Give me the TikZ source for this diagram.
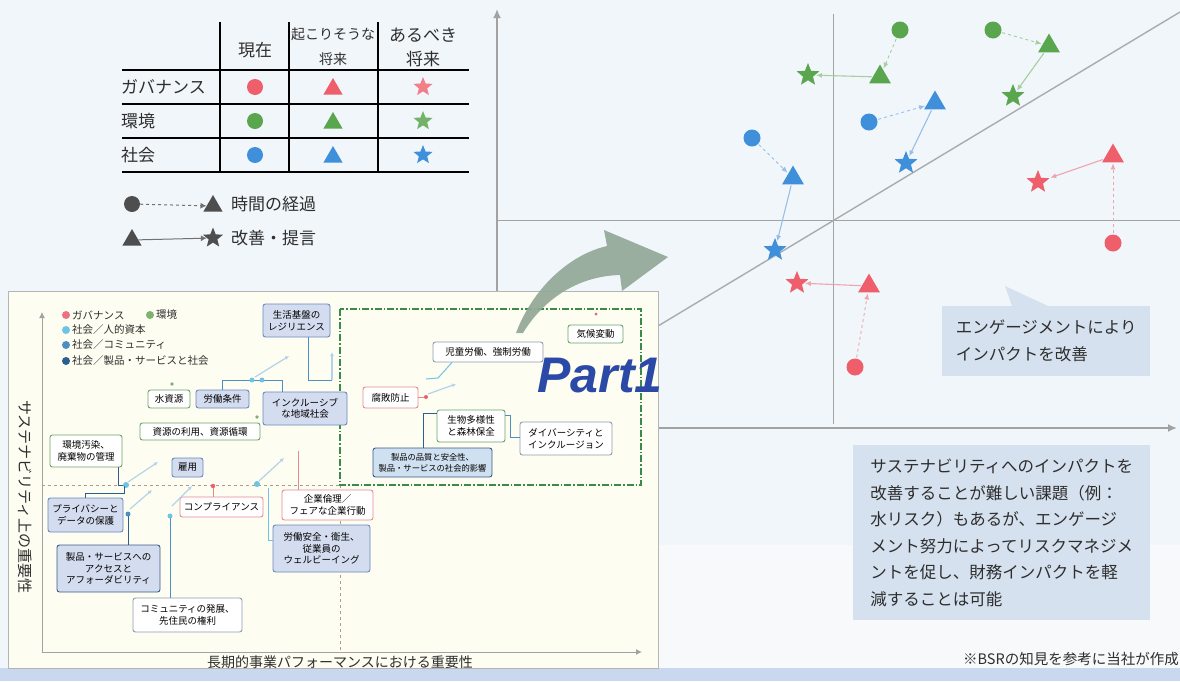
\documentclass[tikz,border=0pt]{standalone}
\usepackage{fontspec}
\setmainfont{Noto Sans CJK JP}
\newfontfamily\partfont{Liberation Sans}
\usetikzlibrary{shapes.geometric,arrows.meta}
\definecolor{bg}{HTML}{F1F6FB}
\definecolor{bglow}{HTML}{F8F9FA}
\definecolor{strip}{HTML}{C9D7EF}
\definecolor{gred}{HTML}{EE5E6B}
\definecolor{ggreen}{HTML}{5AA64E}
\definecolor{gblue}{HTML}{3F8FDA}
\definecolor{lred}{HTML}{F0A4AB}
\definecolor{lgreen}{HTML}{A6CE9E}
\definecolor{lblue}{HTML}{98BEE6}
\definecolor{axisc}{HTML}{A2A2A2}
\definecolor{callout}{HTML}{D6E1EF}
\definecolor{panel}{HTML}{FEFDF1}
\definecolor{txt}{HTML}{2E2E2E}
\definecolor{partblue}{HTML}{2B49A6}
\definecolor{arrowg}{HTML}{93A898}
\definecolor{legdark}{HTML}{4E4E4E}
\definecolor{cgov}{HTML}{EE7080}
\definecolor{cenv}{HTML}{7DB36F}
\definecolor{chum}{HTML}{6EC3E6}
\definecolor{ccom}{HTML}{4D8FC4}
\definecolor{cprod}{HTML}{2A5F8F}
\definecolor{bgreen}{HTML}{6BA46B}
\definecolor{bpink}{HTML}{E38A8F}
\definecolor{bblue}{HTML}{6A88BE}
\definecolor{bgray}{HTML}{8E9AAE}
\definecolor{bdark}{HTML}{3A5A8A}
\definecolor{bfill}{HTML}{D4DCEF}
\definecolor{qfill}{HTML}{CFE0F0}
\definecolor{faint}{HTML}{B4D3EA}
\definecolor{dgreen}{HTML}{3A8A4A}
\definecolor{dashc}{HTML}{B09A88}
\begin{document}
\begin{tikzpicture}[x=1pt,y=-1pt,
  circ/.style={circle,fill=#1,minimum size=17pt,inner sep=0pt},
  tri/.style={regular polygon,regular polygon sides=3,fill=#1,minimum size=25pt,inner sep=0pt},
  strs/.style={star,star points=5,star point ratio=2.3,fill=#1,minimum size=24pt,inner sep=0pt},
  tdash/.style={draw=#1,dashed,line width=0.9pt,-{Latex[length=6pt,width=5pt]},shorten >=1pt,shorten <=1pt},
  tsolid/.style={draw=#1,line width=1.1pt,-{Latex[length=6pt,width=5pt]},shorten >=1pt,shorten <=1pt},
  tbl/.style={text=txt,font=\fontsize{17}{24}\selectfont,align=center,inner sep=0pt},
  ibox/.style={draw=#1,rounded corners=2.5pt,line width=0.9pt,fill=white,align=center,inner sep=1pt,font=\fontsize{9.5}{11.5}\selectfont,text=black},
  ifill/.style={fill=bfill},
  conn/.style={draw=#1,line width=1pt},
  fa/.style={draw=faint,line width=1.2pt,-{Latex[length=4pt,width=4pt]}},
  axarrow/.style={draw=axisc,line width=2pt,-{Latex[length=9pt,width=8pt]}},
  quad/.style={draw=axisc,line width=0.8pt},
  cbox/.style={fill=callout,text=txt,align=left,anchor=north west,inner sep=0pt,font=\fontsize{16.5}{26.5}\selectfont}
]
\useasboundingbox (0,0) rectangle (1180,681);
% background
\fill[bg] (0,0) rectangle (1180,681);
\fill[bglow] (658,545) rectangle (1180,668);
\fill[strip] (0,668) rectangle (1180,681);

% ---------- legend table ----------
\foreach \x in {220,289,378} \draw[line width=1.3pt] (\x,22) -- (\x,172);
\foreach \y in {70,104,138,172} \draw[line width=1.3pt] (122,\y) -- (469,\y);
\node[tbl] (hNow) at (255,50) {現在};
\node[tbl,font=\fontsize{14}{25}\selectfont] (hLikely) at (333,47) {起こりそうな\\将来};
\node[tbl] (hIdeal) at (423,47) {あるべき\\将来};
\node[tbl,anchor=west] (rGov) at (121,87) {ガバナンス};
\node[tbl,anchor=west] (rEnv) at (121,121) {環境};
\node[tbl,anchor=west] (rSoc) at (121,155) {社会};
\node[circ=gred,minimum size=16pt] (tGc) at (255,87) {};
\node[tri=gred,minimum size=22pt] (tGt) at (333,89) {};
\node[strs=gred!80,minimum size=20pt] (tGs) at (423,87) {};
\node[circ=ggreen,minimum size=16pt] (tEc) at (255,121) {};
\node[tri=ggreen,minimum size=22pt] (tEt) at (333,123) {};
\node[strs=ggreen!85,minimum size=20pt] (tEs) at (423,121) {};
\node[circ=gblue,minimum size=16pt] (tSc) at (255,155) {};
\node[tri=gblue,minimum size=22pt] (tSt) at (333,157) {};
\node[strs=gblue,minimum size=20pt] (tSs) at (423,155) {};
% time / improvement legend
\node[circ=legdark,minimum size=16pt] (lc) at (132,204) {};
\node[tri=legdark,minimum size=22pt] (lt) at (213,206) {};
\draw[draw=legdark!80,dashed,line width=1pt,-{Latex[length=6pt,width=6pt]}] (lc) -- (lt);
\node[tbl,anchor=west] (ltxt) at (231,204) {時間の経過};
\node[tri=legdark,minimum size=22pt] (lt2) at (132,240) {};
\node[strs=legdark,minimum size=21pt] (ls2) at (213,238) {};
\draw[draw=legdark!80,line width=1pt,-{Latex[length=6pt,width=6pt]}] (lt2) -- (ls2);
\node[tbl,anchor=west] (ltxt2) at (231,238) {改善・提言};

% ---------- scatter axes ----------
\coordinate (yb) at (497,291);
\coordinate (yt) at (497,9);
\draw[axarrow] (yb) -- (yt);
\coordinate (xl) at (658,428);
\coordinate (xr) at (1177,428);
\draw[axarrow] (xl) -- (xr);
\coordinate (qv1) at (833,14);
\coordinate (qv2) at (833,424);
\draw[quad] (qv1) -- (qv2);
\coordinate (qh1) at (497,220);
\coordinate (qh2) at (1180,220);
\draw[quad] (qh1) -- (qh2);
\coordinate (d1) at (658,326);
\coordinate (d2) at (1180,12);
\draw[draw=axisc!90,line width=1.4pt] (d1) -- (d2);

% ---------- scatter points ----------
\node[circ=ggreen] (g1c) at (900,30) {};
\node[tri=ggreen] (g1t) at (880,77) {};
\node[strs=ggreen] (g1s) at (808,75) {};
\node[circ=ggreen] (g2c) at (993,30) {};
\node[tri=ggreen] (g2t) at (1049,46) {};
\node[strs=ggreen] (g2s) at (1013,96) {};
\node[circ=gblue] (b1c) at (869,122) {};
\node[tri=gblue] (b1t) at (935,103) {};
\node[strs=gblue] (b1s) at (906,163) {};
\node[circ=gblue] (b2c) at (752,138) {};
\node[tri=gblue] (b2t) at (793,178) {};
\node[strs=gblue] (b2s) at (775,250) {};
\node[tri=gred] (r1t) at (1113,156) {};
\node[strs=gred] (r1s) at (1038,182) {};
\node[circ=gred] (r1c) at (1113,243) {};
\node[tri=gred] (r2t) at (869,286) {};
\node[strs=gred] (r2s) at (797,283) {};
\node[circ=gred] (r2c) at (855,367) {};
\draw[tdash=lgreen] (g1c) -- (g1t);
\draw[tsolid=lgreen] (g1t) -- (g1s);
\draw[tdash=lgreen] (g2c) -- (g2t);
\draw[tsolid=lgreen] (g2t) -- (g2s);
\draw[tdash=lblue] (b1c) -- (b1t);
\draw[tsolid=lblue] (b1t) -- (b1s);
\draw[tdash=lblue] (b2c) -- (b2t);
\draw[tsolid=lblue] (b2t) -- (b2s);
\draw[tdash=lred] (r1c) -- (r1t);
\draw[tsolid=lred] (r1t) -- (r1s);
\draw[tdash=lred] (r2c) -- (r2t);
\draw[tsolid=lred] (r2t) -- (r2s);

% ---------- callouts ----------
\fill[callout] (1005,286) -- (1048,306) -- (1012,306) -- cycle;
\node[cbox,minimum width=208pt,minimum height=70pt,inner xsep=11pt,inner ysep=9pt,font=\fontsize{16.5}{27}\selectfont] (c1) at (942,306) {エンゲージメントにより\\インパクトを改善};
\node[cbox,minimum width=297pt,minimum height=175pt,inner xsep=11pt,inner ysep=9pt] (c2) at (853,445) {サステナビリティへのインパクトを\\改善することが難しい課題（例：\\水リスク）もあるが、エンゲージ\\メント努力によってリスクマネジメ\\ントを促し、財務インパクトを軽\\減することは可能};
\node[text=txt,anchor=east,inner sep=0pt,font=\fontsize{14.5}{16}\selectfont] (foot) at (1179,659) {※BSRの知見を参考に当社が作成};

% ---------- inset panel ----------
\draw[draw=axisc!80,fill=panel,line width=1pt] (8,291) rectangle (658,668);
\coordinate (iy0) at (42,652);
\coordinate (iyt) at (42,312);
\coordinate (ixr) at (642,652);
\draw[draw=axisc,line width=1pt,-{Latex[length=6pt,width=6pt]}] (iy0) -- (iyt);
\draw[draw=axisc,line width=1pt,-{Latex[length=6pt,width=6pt]}] (iy0) -- (ixr);
\node[rotate=-90,text=txt,font=\fontsize{15}{15}\selectfont,inner sep=0pt] (ylab) at (25,497) {サステナビリティ上の重要性};
\node[text=txt,font=\fontsize{14}{14}\selectfont,inner sep=0pt] (xlab) at (340,662) {長期的事業パフォーマンスにおける重要性};
\coordinate (mh1) at (42,485);
\coordinate (mh2) at (340,485);
\coordinate (mv2) at (340,652);
\draw[draw=dashc,dashed,line width=0.8pt] (mh1) -- (mh2);
\draw[draw=dashc,dashed,line width=0.8pt] (mh2) -- (mv2);
\draw[draw=dgreen,line width=1.1pt,dash pattern=on 7pt off 2pt on 1.5pt off 2pt] (340,309) rectangle (641,485);

% inset legend
\begin{scope}[font=\fontsize{10.5}{12}\selectfont,text=txt]
\fill[cgov] (66,315) circle (4);
\node[anchor=west,inner sep=0pt] (lg1) at (72,315) {ガバナンス};
\fill[cenv] (150,315) circle (4);
\node[anchor=west,inner sep=0pt] (lg2) at (156,315) {環境};
\fill[chum] (66,330) circle (4);
\node[anchor=west,inner sep=0pt] (lg3) at (72,330) {社会／人的資本};
\fill[ccom] (66,345) circle (4);
\node[anchor=west,inner sep=0pt] (lg4) at (72,345) {社会／コミュニティ};
\fill[cprod] (66,361) circle (4);
\node[anchor=west,inner sep=0pt] (lg5) at (72,361) {社会／製品・サービスと社会};
\end{scope}

% inset boxes
\node[ibox=bblue,ifill,minimum width=67pt,minimum height=33pt] (lifeR) at (296.5,320.5) {生活基盤の\\レジリエンス};
\node[ibox=bgreen,minimum width=42pt,minimum height=18pt] (water) at (169,399) {水資源};
\node[ibox=bblue,ifill,minimum width=53pt,minimum height=18pt] (labor) at (222.5,399) {労働条件};
\node[ibox=bblue,ifill,minimum width=84pt,minimum height=33pt] (incl) at (305,408.5) {インクルーシブ\\な地域社会};
\node[ibox=bgreen,minimum width=120pt,minimum height=17pt] (resource) at (200,431.5) {資源の利用、資源循環};
\node[ibox=bgreen,minimum width=72pt,minimum height=32pt] (pollution) at (86,451) {環境汚染、\\廃棄物の管理};
\node[ibox=bblue,ifill,minimum width=31pt,minimum height=19pt] (employ) at (187.5,467.5) {雇用};
\node[ibox=bblue,ifill,minimum width=75pt,minimum height=34pt] (privacy) at (85.5,515) {プライバシーと\\データの保護};
\node[ibox=bdark,ifill,minimum width=103pt,minimum height=47pt] (access) at (108.5,568.5) {製品・サービスへの\\アクセスと\\アフォーダビリティ};
\node[ibox=bgray,minimum width=109pt,minimum height=34pt] (community) at (187.5,615) {コミュニティの発展、\\先住民の権利};
\node[ibox=bpink,minimum width=83pt,minimum height=20pt] (compliance) at (221.5,507) {コンプライアンス};
\node[ibox=bpink,minimum width=91pt,minimum height=30pt] (ethics) at (327.5,505) {企業倫理／\\フェアな企業行動};
\node[ibox=bblue,ifill,minimum width=97pt,minimum height=47pt] (safety) at (321.5,548.5) {労働安全・衛生、\\従業員の\\ウェルビーイング};
\node[ibox=bgreen,minimum width=55pt,minimum height=18pt] (climate) at (595.5,334) {気候変動};
\node[ibox=bgray,minimum width=110pt,minimum height=20pt] (child) at (488,352) {児童労働、強制労働};
\node[ibox=bpink,minimum width=55pt,minimum height=21pt] (corrupt) at (390.5,397.5) {腐敗防止};
\node[ibox=bgreen,minimum width=68pt,minimum height=32pt] (biodiv) at (471,426) {生物多様性\\と森林保全};
\node[ibox=bgray,minimum width=92pt,minimum height=33pt] (diversity) at (566,438.5) {ダイバーシティと\\インクルージョン};
\node[ibox=bdark,fill=qfill,minimum width=119pt,minimum height=29pt,font=\fontsize{8.3}{11}\selectfont] (quality) at (432.5,462.5) {製品の品質と安全性、\\製品・サービスの社会的影響};

% inset connectors
\coordinate (j1) at (308,380);
\coordinate (j1e) at (332,380);
\draw[conn=ccom] (lifeR.south -| j1) -- (j1) -- (j1e);
\draw[fa] (j1e) -- (332,352);
\coordinate (j2a) at (222,380);
\coordinate (j2b) at (282,380);
\draw[conn=ccom] (labor.north -| j2a) -- (j2a) -- (j2b) -- (incl.north -| j2b);
\fill[chum] (252,380) circle (2.5);
\fill[chum] (262,380) circle (2.5);
\draw[fa] (255,377) -- (289,356);
\fill[cenv] (172,384) circle (1.8);
\fill[cenv] (257,417) circle (1.8);
\coordinate (j3) at (118,485);
\draw[conn=bdark] (pollution.south -| j3) -- (j3) -- (126,485);
\fill[chum] (126,485) circle (3);
\draw[fa] (128,482) -- (158,462);
\coordinate (j4a) at (85,493);
\coordinate (j4b) at (124,493);
\draw[conn=cprod] (privacy.north -| j4a) -- (j4a) -- (j4b) -- (124,486);
\coordinate (j5) at (128,514);
\draw[conn=cprod] (access.north -| j5) -- (j5);
\fill[ccom] (j5) circle (2.5);
\draw[fa] (130,509) -- (152,490);
\coordinate (j6) at (170,516);
\draw[conn=ccom] (community.north -| j6) -- (j6);
\fill[chum] (j6) circle (2.5);
\draw[fa] (172,506) -- (192,486);
\coordinate (j7) at (213,486);
\draw[conn=bpink] (compliance.north -| j7) -- (j7);
\fill[gred] (j7) circle (2.2);
\coordinate (j8) at (298,451);
\draw[conn=bpink] (ethics.north -| j8) -- (j8);
\coordinate (j9a) at (268,540);
\coordinate (j9b) at (268,488);
\draw[conn=chum] (safety.west |- j9a) -- (j9a) -- (j9b);
\fill[chum] (257,484) circle (3);
\draw[fa] (259,481) -- (284,458);
\coordinate (j10) at (426,397);
\draw[conn=bpink] (corrupt.east |- j10) -- (j10);
\fill[gred] (j10) circle (2);
\coordinate (j11) at (438,378);
\draw[conn=chum] (child.south -| 452,0) -- (j11) -- (426,379);
\draw[fa] (428,394) -- (456,384);
\coordinate (j12) at (423,413);
\draw[conn=cprod] (quality.north -| j12) -- (j12) -- (biodiv.west |- j12);
\coordinate (j13a) at (510,415);
\coordinate (j13b) at (510,437);
\draw[conn=ccom] (biodiv.east |- j13a) -- (j13a) -- (j13b) -- (diversity.west |- j13b);
\fill[gred] (596,314) circle (1.5);

% ---------- curved arrow and Part1 ----------
\fill[arrowg,opacity=0.92] (516,333) .. controls (532,290) and (568,255) .. (607,246) -- (604,230) -- (668,257) -- (622,291) -- (620,275) .. controls (580,276) and (545,297) .. (523,333) -- cycle;
\node[text=partblue,inner sep=0pt,font=\partfont\bfseries\itshape\fontsize{50}{50}\selectfont] (part) at (600,376) {Part1};
\end{tikzpicture}
\end{document}
